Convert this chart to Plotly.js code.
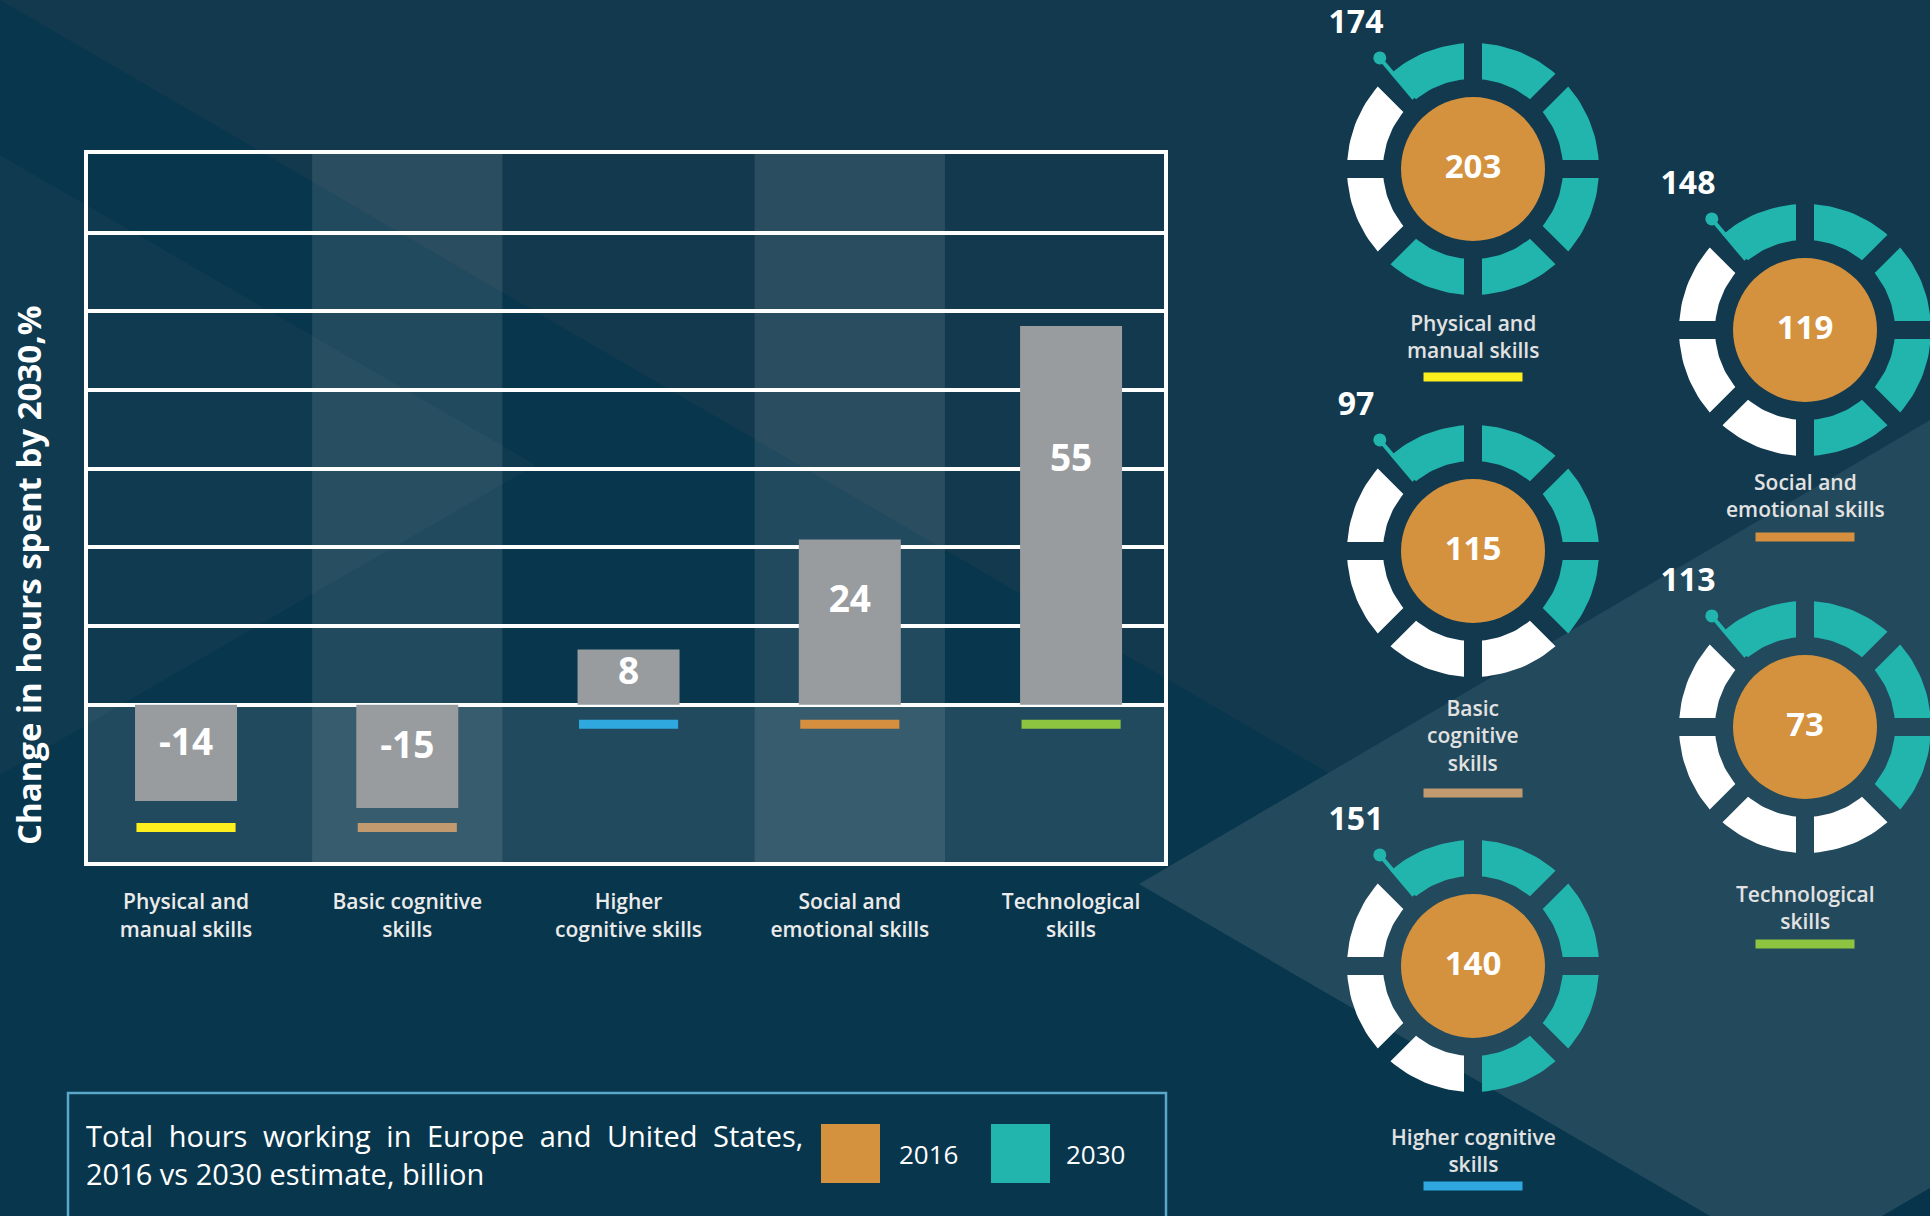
<!DOCTYPE html>
<html>
<head>
<meta charset="utf-8">
<script src="https://cdn.plot.ly/plotly-3.0.1.min.js"></script>
<style>
html,body{margin:0;padding:0;background:#12394e;overflow:hidden}
#chart{width:1930px;height:1216px}
g.annotation[data-index="1"] tspan.line:first-child{word-spacing:8px}
</style>
</head>
<body>
<div id="chart"></div>
<script>
// ---------------- DATA ----------------
const categories = ["Physical and manual skills", "Basic cognitive skills", "Higher cognitive skills", "Social and emotional skills", "Technological skills"];
const axisLabels = ["Physical and<br>manual skills", "Basic cognitive<br>skills", "Higher<br>cognitive skills", "Social and<br>emotional skills", "Technological<br>skills"];
const ringLabels = ["Physical and<br>manual skills", "Basic<br>cognitive<br>skills", "Higher cognitive<br>skills", "Social and<br>emotional skills", "Technological<br>skills"];
const changeBy2030 = [-14, -15, 8, 24, 55];          // % change in hours spent
const hours2016 = [203, 115, 140, 119, 73];          // billion hours, 2016
const hours2030 = [174, 97, 151, 148, 113];          // billion hours, 2030 estimate
const ringSegmentsFilled = [6, 4, 5, 5, 4];          // teal segments out of 8
const legendYears = ["2016", "2030"];
const yAxisTitle = "Change in hours spent by 2030,%";
const legendTitle = "Total hours working in Europe and United States,<br>2016 vs 2030 estimate, billion";

// ---------------- STYLE / LAYOUT ----------------
const W = 1930, H = 1216;
const px = x => x / W, py = y => 1 - y / H;
const FONT = "Open Sans, Noto Sans, DejaVu Sans, sans-serif";
const skillColors = ["#fdee1e", "#c29a70", "#2fa8df", "#d58f3e", "#8dc540"];
const C2016 = "#d4913e", C2030 = "#22b5ad", BAR = "#989c9f";
const BG = "#12394e", BG_DARK = "#08364c", BG_MID = "#0f3a50", BG_LIGHT = "#22495c";

const plotLeft = 88, plotRight = 1164, plotTop = 154, plotBottom = 862;
const gridStep = 80 / 7;
const yMin = -2 * gridStep, yMax = 7 * gridStep;
const xMin = -0.443, xMax = 4.42;
const idx = categories.map((_, i) => i);
const gridVals = [0, 1, 2, 3, 4, 5, 6].map(k => k * gridStep);

// donut positions (pixel space of the right-hand axes)
const ringPos = [[1473, 169], [1473, 551], [1473, 966], [1805, 330], [1805, 727]];
const labelMidY = [336, 735, 1150, 495, 907];
const underlineY = [377, 793, 1186, 537, 944];
const R_IN = 90, R_OUT = 126, HALF_GAP = 9, CORE_D = 144;

// ---------------- TRACES ----------------
const traces = [];

traces.push({
  type: "bar", x: idx, y: changeBy2030, width: 0.461,
  marker: {color: BAR, line: {width: 0}},
  xaxis: "x", yaxis: "y", hoverinfo: "skip"
});

traces.push({
  type: "scatter", mode: "text", x: idx,
  y: changeBy2030.map(v => v >= 0 ? v * 0.66 - 1 : v * 0.43),
  text: changeBy2030.map(String),
  textfont: {family: FONT, size: 37, color: "#ffffff", weight: 700},
  textposition: "middle center", xaxis: "x", yaxis: "y", hoverinfo: "skip"
});

// donut ring segments
function pt(cx, cy, r, deg) {
  const a = deg * Math.PI / 180;
  return [cx + r * Math.sin(a), cy - r * Math.cos(a)];
}
const teal = {x: [], y: []}, white = {x: [], y: []};
ringPos.forEach(([cx, cy], i) => {
  for (let k = 0; k < 8; k++) {
    const a0 = 315 + 45 * k, a1 = a0 + 45;
    const dO = Math.asin(HALF_GAP / R_OUT) * 180 / Math.PI;
    const dI = Math.asin(HALF_GAP / R_IN) * 180 / Math.PI;
    const tgt = k < ringSegmentsFilled[i] ? teal : white;
    const N = 16;
    for (let j = 0; j <= N; j++) {
      const p = pt(cx, cy, R_OUT, a0 + dO + (a1 - a0 - 2 * dO) * j / N);
      tgt.x.push(p[0]); tgt.y.push(p[1]);
    }
    for (let j = N; j >= 0; j--) {
      const p = pt(cx, cy, R_IN, a0 + dI + (a1 - a0 - 2 * dI) * j / N);
      tgt.x.push(p[0]); tgt.y.push(p[1]);
    }
    tgt.x.push(null); tgt.y.push(null);
  }
});
[[teal, C2030], [white, "#ffffff"]].forEach(([d, c]) => {
  traces.push({
    type: "scatter", mode: "lines", x: d.x, y: d.y, fill: "toself", fillcolor: c,
    line: {width: 0, color: c}, xaxis: "x2", yaxis: "y2", hoverinfo: "skip"
  });
});

// orange cores
traces.push({
  type: "scatter", mode: "markers",
  x: ringPos.map(p => p[0]), y: ringPos.map(p => p[1]),
  marker: {size: CORE_D, color: C2016, line: {width: 0}},
  xaxis: "x2", yaxis: "y2", hoverinfo: "skip"
});

// needles
const nx = [], ny = [], dx = [], dy = [];
ringPos.forEach(([cx, cy]) => {
  const a = pt(cx, cy, 92, 320), b = pt(cx, cy, 145, 320);
  nx.push(a[0], b[0], null); ny.push(a[1], b[1], null);
  dx.push(b[0]); dy.push(b[1]);
});
traces.push({
  type: "scatter", mode: "lines", x: nx, y: ny,
  line: {width: 4, color: C2030}, xaxis: "x2", yaxis: "y2", hoverinfo: "skip"
});
traces.push({
  type: "scatter", mode: "markers", x: dx, y: dy,
  marker: {size: 13, color: C2030}, xaxis: "x2", yaxis: "y2", hoverinfo: "skip"
});

// values
traces.push({
  type: "scatter", mode: "text",
  x: ringPos.map(p => p[0]), y: ringPos.map(p => p[1] + 1),
  text: hours2016.map(String),
  textfont: {family: FONT, size: 33, color: "#ffffff", weight: 700},
  xaxis: "x2", yaxis: "y2", hoverinfo: "skip"
});
traces.push({
  type: "scatter", mode: "text",
  x: ringPos.map(p => p[0] - 117), y: ringPos.map(p => p[1] - 144),
  text: hours2030.map(String),
  textfont: {family: FONT, size: 32, color: "#ffffff", weight: 700},
  xaxis: "x2", yaxis: "y2", hoverinfo: "skip"
});

// ---------------- SHAPES ----------------
const path = pts => "M " + pts.map(p => px(p[0]) + "," + py(p[1])).join(" L ") + " Z";
const shapes = [];
// background
shapes.push({type: "path", xref: "paper", yref: "paper", layer: "below", line: {width: 0}, fillcolor: BG_DARK,
  path: path([[0, 0], [W, 0.582 * W], [W, H], [0, H]])});
shapes.push({type: "path", xref: "paper", yref: "paper", layer: "below", line: {width: 0}, fillcolor: BG_MID,
  path: path([[0, 155], [536, 465], [0, 775]])});
shapes.push({type: "path", xref: "paper", yref: "paper", layer: "below", line: {width: 0}, fillcolor: BG_LIGHT,
  path: path([[1139, 884], [W, 420], [W, H], [1710, H]])});
shapes.push({type: "path", xref: "paper", yref: "paper", layer: "below", line: {width: 0}, fillcolor: "#07344a",
  path: path([[W, 1188], [W, H], [1882, H]])});

// chart overlays
shapes.push({type: "rect", xref: "x", yref: "y", layer: "below", line: {width: 0},
  x0: xMin, x1: xMax, y0: yMin, y1: 0, fillcolor: "rgba(255,255,255,0.10)"});
[1, 3].forEach(i => shapes.push({type: "rect", xref: "x", yref: "y", layer: "below", line: {width: 0},
  x0: i - 0.43, x1: i + 0.43, y0: yMin, y1: yMax, fillcolor: "rgba(255,255,255,0.10)"}));

// colour keys under bars
const minNeg = Math.min(...changeBy2030);
changeBy2030.forEach((v, i) => {
  const top = (v >= 0 ? 0 : minNeg) - 2.2;
  shapes.push({type: "rect", xref: "x", yref: "y", layer: "above", line: {width: 0},
    x0: i - 0.224, x1: i + 0.224, y0: top - 1.3, y1: top, fillcolor: skillColors[i]});
});

// colour keys under donuts
ringPos.forEach(([cx], i) => {
  shapes.push({type: "rect", xref: "x2", yref: "y2", layer: "above", line: {width: 0},
    x0: cx - 49.5, x1: cx + 49.5, y0: underlineY[i] - 4.5, y1: underlineY[i] + 4.5, fillcolor: skillColors[i]});
});

// legend box
shapes.push({type: "rect", xref: "paper", yref: "paper", layer: "above",
  x0: px(68), x1: px(1166), y0: py(1240), y1: py(1093), line: {color: "#5aa7c9", width: 2.5}, fillcolor: "rgba(0,0,0,0)"});
shapes.push({type: "rect", xref: "paper", yref: "paper", layer: "above", line: {width: 0},
  x0: px(821), x1: px(880), y0: py(1183), y1: py(1124), fillcolor: C2016});
shapes.push({type: "rect", xref: "paper", yref: "paper", layer: "above", line: {width: 0},
  x0: px(991), x1: px(1050), y0: py(1183), y1: py(1124), fillcolor: C2030});

// ---------------- ANNOTATIONS ----------------
const annotations = [];
annotations.push({xref: "paper", yref: "paper", x: px(29), y: py(576), text: yAxisTitle, textangle: -90,
  showarrow: false, xanchor: "center", yanchor: "middle",
  font: {family: FONT, size: 33, color: "#ffffff", weight: 700}});
annotations.push({xref: "paper", yref: "paper", x: px(84), y: py(1154), text: legendTitle, align: "left",
  showarrow: false, xanchor: "left", yanchor: "middle",
  font: {family: FONT, size: 29, color: "#ffffff"}});
annotations.push({xref: "paper", yref: "paper", x: px(897), y: py(1154), text: legendYears[0],
  showarrow: false, xanchor: "left", yanchor: "middle", font: {family: FONT, size: 26, color: "#ffffff"}});
annotations.push({xref: "paper", yref: "paper", x: px(1064), y: py(1154), text: legendYears[1],
  showarrow: false, xanchor: "left", yanchor: "middle", font: {family: FONT, size: 26, color: "#ffffff"}});
ringPos.forEach(([cx], i) => {
  annotations.push({xref: "x2", yref: "y2", x: cx, y: labelMidY[i], text: ringLabels[i], align: "center",
    showarrow: false, xanchor: "center", yanchor: "middle",
    font: {family: FONT, size: 21, color: "#e2e2e2", weight: 600}});
});

// ---------------- LAYOUT ----------------
const layout = {
  width: W, height: H,
  margin: {l: 0, r: 0, t: 0, b: 0, pad: 0},
  paper_bgcolor: BG, plot_bgcolor: "rgba(0,0,0,0)",
  showlegend: false, hovermode: false,
  xaxis: {
    domain: [px(plotLeft), px(plotRight)], range: [xMin, xMax],
    tickvals: idx, ticktext: axisLabels, ticks: "", ticklabelstandoff: 18,
    tickfont: {family: FONT, size: 21, color: "#ebebeb", weight: 600},
    showline: true, mirror: true, linecolor: "#ffffff", linewidth: 4,
    showgrid: false, zeroline: false, fixedrange: true, anchor: "y"
  },
  yaxis: {
    domain: [py(plotBottom), py(plotTop)], range: [yMin, yMax],
    tickvals: gridVals, showticklabels: false, ticks: "",
    showgrid: true, gridcolor: "#ffffff", gridwidth: 4,
    showline: true, mirror: true, linecolor: "#ffffff", linewidth: 4,
    zeroline: false, fixedrange: true, anchor: "x"
  },
  xaxis2: {domain: [0.6, 1], range: [0.6 * W, W], visible: false, anchor: "y2", fixedrange: true},
  yaxis2: {domain: [0, 1], range: [H, 0], visible: false, anchor: "x2", fixedrange: true},
  shapes: shapes, annotations: annotations
};

Plotly.newPlot("chart", traces, layout, {displayModeBar: false, staticPlot: true});
</script>
</body>
</html>
